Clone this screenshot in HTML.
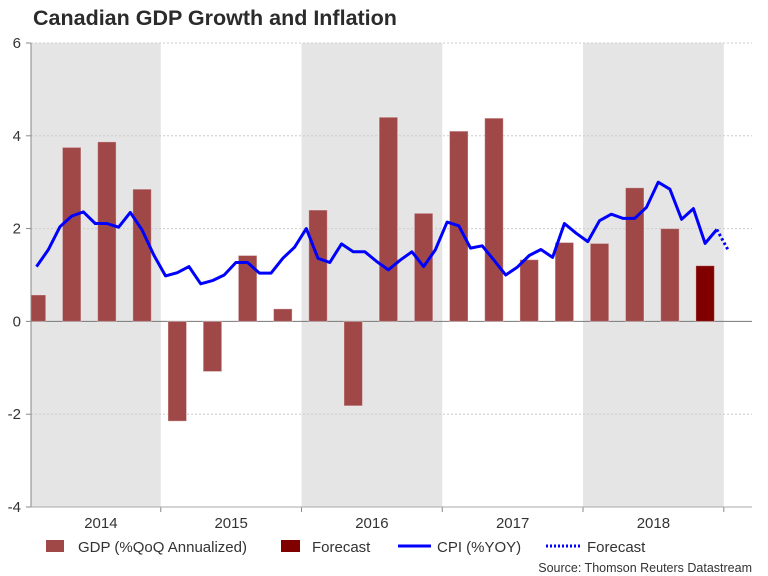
<!DOCTYPE html>
<html><head><meta charset="utf-8"><style>
html,body{margin:0;padding:0;background:#fff;}
svg{display:block;font-family:"Liberation Sans",Arial,sans-serif;}
</style></head><body>
<svg id="chart" width="768" height="576" viewBox="0 0 768 576">
<text x="33" y="25" font-size="21.5" font-weight="bold" fill="#2b2b2b">Canadian GDP Growth and Inflation</text>
<defs><clipPath id="pc"><rect x="31" y="40" width="721" height="467"/></clipPath></defs>
<g id="bands" clip-path="url(#pc)"></g>
<g id="grid"></g>
<g id="bars" clip-path="url(#pc)"></g>
<g id="lines"></g>
<g id="axes"></g>
<g font-size="15" fill="#333">
<g><rect x="46" y="540" width="18" height="12" fill="#a04848"/><text x="78" y="552">GDP (%QoQ Annualized)</text></g>
<g><rect x="281" y="540" width="19" height="12" fill="#800000"/><text x="312" y="552">Forecast</text></g>
<g><line x1="398" y1="546" x2="431" y2="546" stroke="#0000ff" stroke-width="3"/><text x="437" y="552">CPI (%YOY)</text></g>
<g><line x1="546" y1="546" x2="580" y2="546" stroke="#0000ff" stroke-width="3" stroke-dasharray="2,2"/><text x="587" y="552">Forecast</text></g>
</g>
<text x="752" y="572" font-size="12.5" fill="#333" text-anchor="end">Source: Thomson Reuters Datastream</text>
</svg>
<script>
const years = ["2014","2015","2016","2017","2018"];
const yTicks = [6,4,2,0,-2,-4];
const gdp = [0.57,3.75,3.87,2.85,-2.15,-1.08,1.42,0.27,2.4,-1.82,4.4,2.33,4.1,4.38,1.33,1.7,1.68,2.88,2.0];
const gdpForecast = [1.2];
const cpi = [1.18,1.54,2.04,2.27,2.36,2.11,2.11,2.03,2.35,1.97,1.43,0.98,
1.05,1.18,0.81,0.88,1.0,1.27,1.27,1.04,1.04,1.36,1.6,2.0,
1.36,1.27,1.67,1.5,1.5,1.29,1.11,1.32,1.5,1.18,1.54,2.14,
2.06,1.58,1.63,1.32,1.0,1.17,1.42,1.55,1.38,2.11,1.9,1.72,
2.17,2.31,2.22,2.22,2.46,3.0,2.85,2.2,2.43,1.68,1.98];
const cpiForecast = [1.52];

const NS="http://www.w3.org/2000/svg";
const L=31,R=752,T=43,B=507,ymin=-4,ymax=6;
const y=v=>B-(v-ymin)/(ymax-ymin)*(B-T);
const x0=36.5, mStep=11.73;
const xm=m=>x0+m*mStep;
const xq=q=>x0+q*3*mStep;
function mk(tag,attrs,parent){const e=document.createElementNS(NS,tag);for(const k in attrs)e.setAttribute(k,attrs[k]);document.getElementById(parent).appendChild(e);return e;}

years.forEach((yr,i)=>{
  const a=xq(i*4)-16.5, b=xq(i*4+4)-16.5;
  if(i%2===0){const r=mk('rect',{x:a,y:T,width:b-a,height:B-T,fill:'#e5e5e5'},'bands');
  
  }
  const lx=(Math.max(a,L)+b)/2+(a<L?5:0);
  const t=mk('text',{x:lx,y:528,'font-size':15,fill:'#333','text-anchor':'middle'},'axes');
  t.textContent=yr;
  
  
  if(i>0){const tk=mk('line',{x1:a,y1:B,x2:a,y2:B+5,stroke:'#888'},'axes');
  
  }
  if(i===years.length-1){const tk=mk('line',{x1:b,y1:B,x2:b,y2:B+5,stroke:'#888'},'axes');
  
  }
});
yTicks.forEach(v=>{
  if(v!==ymin){const g=mk('line',{x1:L,y1:y(v),x2:R,y2:y(v),stroke:v===0?'#777':'#ccc','stroke-dasharray':v===0?'':'2,2','stroke-width':1},'grid');
  
  }
  const t=mk('text',{x:21,y:y(v)+5,'font-size':15,fill:'#333','text-anchor':'end'},'axes');
  t.textContent=v;
  
  
  const tk=mk('line',{x1:L-5,y1:y(v),x2:L,y2:y(v),stroke:'#888'},'axes');
  
  
});
const ax=mk('line',{x1:L,y1:T,x2:L,y2:B,stroke:'#888'},'axes');


const bx=mk('line',{x1:L,y1:B,x2:R,y2:B,stroke:'#aaa'},'axes');



const bw=18.5;
function bar(i,v,fill,name){
  const top=Math.min(y(v),y(0)),h=Math.abs(y(v)-y(0));
  const r=mk('rect',{x:xq(i)-bw/2,y:top,width:bw,height:h,fill:fill,stroke:'rgba(255,255,255,0.35)','stroke-width':1},'bars');
  
  
}
gdp.forEach((v,i)=>bar(i,v,'#a04848','gdp-bar'));
gdpForecast.forEach((v,j)=>bar(gdp.length+j,v,'#800000','gdp-forecast-bar'));

const pts=cpi.map((v,i)=>xm(i).toFixed(1)+','+y(v).toFixed(1)).join(' ');
const pl=mk('polyline',{points:pts,fill:'none',stroke:'#0000ff','stroke-width':3,'stroke-linejoin':'round'},'lines');


const n=cpi.length-1;
const fp=[xm(n)+','+y(cpi[n])].concat(cpiForecast.map((v,j)=>xm(n+1+j)+','+y(v))).join(' ');
const fl=mk('polyline',{points:fp,fill:'none',stroke:'#0000ff','stroke-width':3,'stroke-dasharray':'2.5,2.5'},'lines');


</script>
</body></html>
